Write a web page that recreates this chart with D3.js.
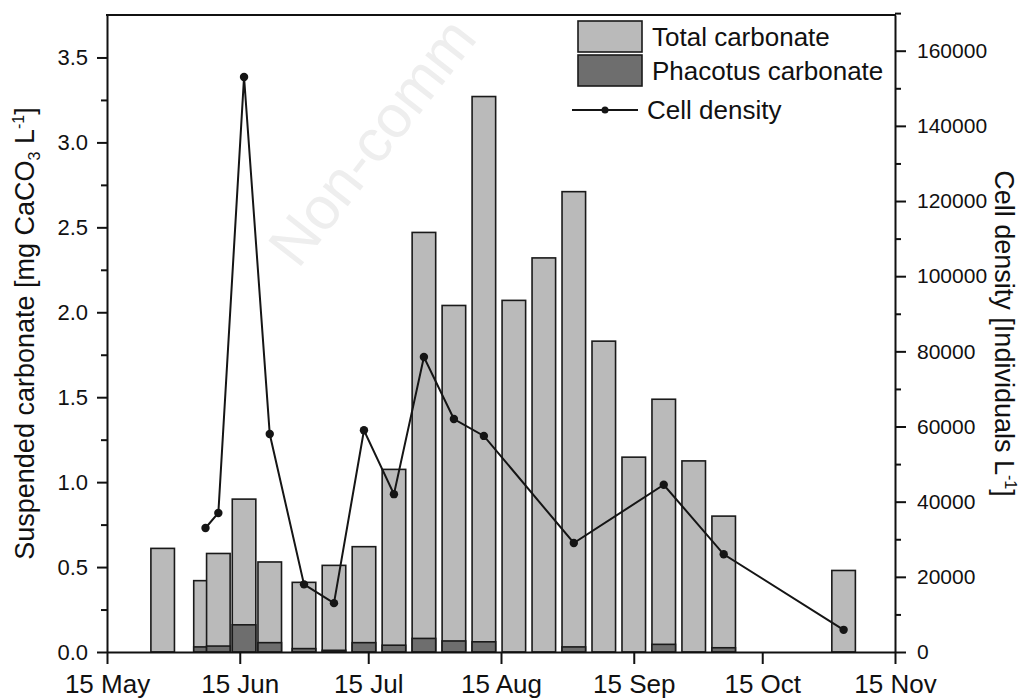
<!DOCTYPE html>
<html>
<head>
<meta charset="utf-8">
<script src="https://cdn.jsdelivr.net/npm/d3@7"></script>
<style>
  body { margin: 0; background: #fff; }
  svg { display: block; font-family: "Liberation Sans", Arial, sans-serif; }
  .axis path, .axis line { stroke: #111; stroke-width: 2; }
  .axis text { fill: #111; }
</style>
</head>
<body>
<svg id="chart"></svg>
<script>
// sampling dates (weekly) and suspended carbonate [mg CaCO3 / L]
const sampleDates = ["2013-05-28", "2013-06-07", "2013-06-10", "2013-06-16", "2013-06-22",
  "2013-06-30", "2013-07-07", "2013-07-14", "2013-07-21", "2013-07-28", "2013-08-04",
  "2013-08-11", "2013-08-18", "2013-08-25", "2013-09-01", "2013-09-08", "2013-09-15",
  "2013-09-22", "2013-09-29", "2013-10-06", "2013-11-03"];
const totalCarbonate = [0.61, 0.42, 0.58, 0.90, 0.53, 0.41, 0.51, 0.62, 1.075, 2.47, 2.04,
  3.27, 2.07, 2.32, 2.71, 1.83, 1.147, 1.488, 1.125, 0.80, 0.48];
const phacotusCarbonate = [0, 0.03, 0.035, 0.16, 0.055, 0.02, 0.01, 0.055, 0.04, 0.08, 0.065,
  0.06, 0, 0, 0.03, 0, 0, 0.045, 0, 0.025, 0];

// Phacotus cell density [individuals / L]
const densityDates = ["2013-06-07", "2013-06-10", "2013-06-16", "2013-06-22", "2013-06-30",
  "2013-07-07", "2013-07-14", "2013-07-21", "2013-07-28", "2013-08-04", "2013-08-11",
  "2013-09-01", "2013-09-22", "2013-10-06", "2013-11-03"];
const cellDensity = [33000, 37000, 153000, 58000, 18000, 13000, 59000, 42000, 78500, 62000,
  57500, 29000, 44500, 26000, 5900];

const monthTicks = ["2013-05-15", "2013-06-15", "2013-07-15", "2013-08-15", "2013-09-15",
  "2013-10-15", "2013-11-15"];
const leftTicks = [0, 0.5, 1.0, 1.5, 2.0, 2.5, 3.0, 3.5];
const rightTicks = [0, 20000, 40000, 60000, 80000, 100000, 120000, 140000, 160000];

const w = 1024, h = 700;
const m = { left: 107, right: 895, top: 15, bottom: 652 };
const parse = d3.timeParse("%Y-%m-%d");

const svg = d3.select("#chart").attr("width", w).attr("height", h);

const x = d3.scaleTime()
  .domain([parse(monthTicks[0]), parse(monthTicks[monthTicks.length - 1])])
  .range([m.left, m.right]);
const yL = d3.scaleLinear().domain([0, 3.75]).range([m.bottom, m.top]);
const yR = d3.scaleLinear().domain([0, 169500]).range([m.bottom, m.top]);

// faint watermark (only the visible part)
svg.append("text")
  .attr("transform", "translate(298,270) rotate(-52)")
  .attr("font-size", 60)
  .attr("fill", "#eeeeee")
  .text("Non-comm");

// bars
const bars = sampleDates.map((d, i) => ({
  date: parse(d), total: totalCarbonate[i], phac: phacotusCarbonate[i]
}));
const half = 66; // hours
const bx = (d) => x(d3.timeHour.offset(d.date, -half));
const bw = (d) => x(d3.timeHour.offset(d.date, half)) - bx(d);

const barG = svg.append("g");
bars.forEach((d) => {
  barG.append("rect")
    .attr("x", bx(d)).attr("width", bw(d))
    .attr("y", yL(d.total)).attr("height", yL(0) - yL(d.total))
    .attr("fill", "#bababa").attr("stroke", "#1a1a1a").attr("stroke-width", 1.6);
  if (d.phac > 0) {
    barG.append("rect")
      .attr("x", bx(d)).attr("width", bw(d))
      .attr("y", yL(d.phac)).attr("height", yL(0) - yL(d.phac))
      .attr("fill", "#6e6e6e").attr("stroke", "#1a1a1a").attr("stroke-width", 1.6);
  }
});

// cell density line
const dens = densityDates.map((d, i) => ({ date: parse(d), v: cellDensity[i] }));
svg.append("path")
  .datum(dens)
  .attr("fill", "none")
  .attr("stroke", "#151515")
  .attr("stroke-width", 2)
  .attr("d", d3.line().x((d) => x(d.date)).y((d) => yR(d.v)));
svg.append("g").selectAll("circle")
  .data(dens).enter().append("circle")
  .attr("cx", (d) => x(d.date)).attr("cy", (d) => yR(d.v))
  .attr("r", 4.2).attr("fill", "#151515");

// axes
svg.append("g").attr("class", "axis")
  .attr("transform", `translate(0,${m.bottom})`)
  .call(d3.axisBottom(x).tickValues(monthTicks.map(parse))
    .tickFormat(d3.timeFormat("%d %b")).tickSize(12).tickSizeOuter(0).tickPadding(11))
  .call((g) => g.selectAll("text").attr("font-size", 26));

svg.append("g").attr("class", "axis")
  .attr("transform", `translate(${m.left},0)`)
  .call(d3.axisLeft(yL).tickValues(leftTicks).tickFormat(d3.format(".1f"))
    .tickSize(10).tickSizeOuter(0).tickPadding(9))
  .call((g) => g.selectAll("text").attr("font-size", 22));
svg.append("g").attr("class", "axis")
  .attr("transform", `translate(${m.left},0)`)
  .call(d3.axisLeft(yL).tickValues(leftTicks.map((v) => v + 0.25).filter((v) => v < 3.7))
    .tickFormat("").tickSize(6).tickSizeOuter(0))
  .call((g) => g.select(".domain").remove());

svg.append("g").attr("class", "axis")
  .attr("transform", `translate(${m.right},0)`)
  .call(d3.axisRight(yR).tickValues(rightTicks).tickFormat(d3.format("d"))
    .tickSize(11).tickSizeOuter(0).tickPadding(11))
  .call((g) => g.selectAll("text").attr("font-size", 21));
svg.append("g").attr("class", "axis")
  .attr("transform", `translate(${m.right},0)`)
  .call(d3.axisRight(yR).tickValues(rightTicks.map((v) => v + 10000))
    .tickFormat("").tickSize(6).tickSizeOuter(0))
  .call((g) => g.select(".domain").remove());

// top frame
svg.append("line")
  .attr("x1", m.left - 1).attr("x2", m.right + 1).attr("y1", m.top).attr("y2", m.top)
  .attr("stroke", "#111").attr("stroke-width", 2);

// axis titles
const lt = svg.append("text")
  .attr("transform", `translate(34,${(m.top + m.bottom) / 2}) rotate(-90)`)
  .attr("text-anchor", "middle").attr("font-size", 27).attr("fill", "#111");
lt.append("tspan").text("Suspended carbonate [mg CaCO");
lt.append("tspan").attr("font-size", 16).attr("dy", 6).text("3");
lt.append("tspan").attr("dy", -6).text(" L");
lt.append("tspan").attr("font-size", 16).attr("dy", -10).text("-1");
lt.append("tspan").attr("dy", 10).text("]");

const rt = svg.append("text")
  .attr("transform", `translate(995,${(m.top + m.bottom) / 2}) rotate(90)`)
  .attr("text-anchor", "middle").attr("font-size", 27).attr("fill", "#111");
rt.append("tspan").text("Cell density [Individuals L");
rt.append("tspan").attr("font-size", 16).attr("dy", -10).text("-1");
rt.append("tspan").attr("dy", 10).text("]");

// legend
const legend = svg.append("g");
const legendItems = [
  { label: "Total carbonate", fill: "#bababa", y: 21 },
  { label: "Phacotus carbonate", fill: "#6e6e6e", y: 55 }
];
legendItems.forEach((it) => {
  legend.append("rect")
    .attr("x", 578).attr("y", it.y).attr("width", 64).attr("height", 31)
    .attr("fill", it.fill).attr("stroke", "#1a1a1a").attr("stroke-width", 1.6);
  legend.append("text")
    .attr("x", 652).attr("y", it.y + 25)
    .attr("font-size", 26).attr("fill", "#111").text(it.label);
});
legend.append("line")
  .attr("x1", 572).attr("x2", 638).attr("y1", 110).attr("y2", 110)
  .attr("stroke", "#151515").attr("stroke-width", 2);
legend.append("circle").attr("cx", 605).attr("cy", 110).attr("r", 3.5).attr("fill", "#151515");
legend.append("text")
  .attr("x", 647).attr("y", 119)
  .attr("font-size", 26).attr("fill", "#111").text("Cell density");
</script>
</body>
</html>
